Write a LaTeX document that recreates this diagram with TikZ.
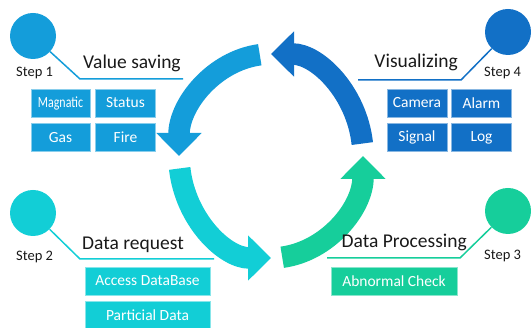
\documentclass[tikz,border=0pt]{standalone}
\usepackage{fontspec}
\setmainfont{Carlito}
\usetikzlibrary{arrows.meta,positioning}

\definecolor{stepone}{RGB}{20,157,218}
\definecolor{steptwo}{RGB}{18,206,214}
\definecolor{stepthree}{RGB}{22,206,155}
\definecolor{stepfour}{RGB}{18,112,198}

\begin{document}
\begin{tikzpicture}[
    x=1pt, y=1pt,
    node distance=6pt and 5pt,
    box/.style={rectangle, fill=#1, draw=#1!50!white, line width=0.5pt, text=white, minimum width=60pt, minimum height=28pt, inner sep=0pt, font=\fontsize{15.5}{16}\selectfont},
    dot/.style={circle, fill=#1, minimum size=46pt, inner sep=0pt},
    lead/.style={line width=1.5pt, draw=#1},
    ring/.style={line width=21.5pt, draw=#1, -{Triangle[width=44pt,length=23pt]}},
    title/.style={inner sep=0pt, text=black!90, font=\fontsize{19.5}{20}\selectfont},
    steplbl/.style={inner sep=0pt, text=black!90, font=\fontsize{14.5}{15}\selectfont}
]
\useasboundingbox (0,0) rectangle (531,-328);

% Ring of arrows
\coordinate (ctr) at (271,-156);
\draw[ring=stepone] ([shift={(97:92 and 102)}]ctr) arc[start angle=97, end angle=180, x radius=92, y radius=102];
\draw[ring=steptwo] ([shift={(187:92 and 102)}]ctr) arc[start angle=187, end angle=270, x radius=92, y radius=102];
\draw[ring=stepthree] ([shift={(277:92 and 102)}]ctr) arc[start angle=277, end angle=360, x radius=92, y radius=102];
\draw[ring=stepfour] ([shift={(7:92 and 102)}]ctr) arc[start angle=7, end angle=90, x radius=92, y radius=102];

% Step 1
\node[dot=stepone] (step1) at (33,-36) {};
\node[steplbl, anchor=base west] (lbl1) at (16,-77) {Step 1};
\node[title, anchor=base west] (saving) at (83,-68.5) {Value saving};
\coordinate (k1) at (80,-79);
\coordinate (e1) at (183,-79);
\draw[lead=stepone] (step1) -- (k1) -- (e1);
\node[box=stepone, minimum width=59pt] (magnatic) at (60.5,-103) {\scalebox{0.77}[1]{Magnatic}};
\node[box=stepone, right=of magnatic] (status) {Status};
\node[box=stepone, minimum width=59pt, below=of magnatic] (gas) {Gas};
\node[box=stepone, right=of gas] (fire) {Fire};

% Step 2
\node[dot=steptwo] (step2) at (33,-213) {};
\node[steplbl, anchor=base west] (lbl2) at (16,-261) {Step 2};
\node[title, anchor=base west] (request) at (82,-250) {Data request};
\coordinate (k2) at (80,-259);
\coordinate (e2) at (214,-259);
\draw[lead=steptwo] (step2) -- (k2) -- (e2);
\node[box=steptwo, minimum width=125pt] (access) at (147.5,-281) {Access DataBase};
\node[box=steptwo, minimum width=125pt, below=of access] (partial) {Particial Data};

% Step 3
\node[dot=stepthree] (step3) at (508,-211) {};
\node[steplbl, anchor=base west] (lbl3) at (484,-260) {Step 3};
\node[title, anchor=base east] (processing) at (467,-248) {Data Processing};
\coordinate (k3) at (460,-258);
\coordinate (e3) at (327,-258);
\draw[lead=stepthree] (step3) -- (k3) -- (e3);
\node[box=stepthree, minimum width=126pt] (abnormal) at (394,-281) {Abnormal Check};

% Step 4
\node[dot=stepfour] (step4) at (508,-32) {};
\node[steplbl, anchor=base west] (lbl4) at (484,-77) {Step 4};
\node[title, anchor=base east] (visual) at (458,-68) {Visualizing};
\coordinate (k4) at (461,-80);
\coordinate (e4) at (358,-80);
\draw[lead=stepfour] (step4) -- (k4) -- (e4);
\node[box=stepfour] (camera) at (417,-103) {Camera};
\node[box=stepfour, right=4pt of camera] (alarm) {Alarm};
\node[box=stepfour, below=of camera] (signal) {Signal};
\node[box=stepfour, right=4pt of signal] (log) {Log};

\end{tikzpicture}
\end{document}
